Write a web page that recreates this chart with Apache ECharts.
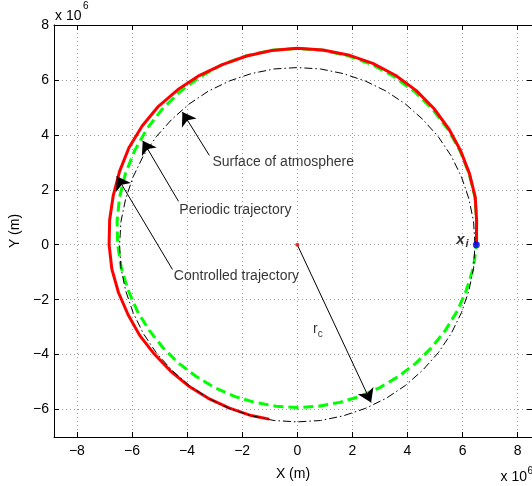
<!DOCTYPE html>
<html>
<head>
<meta charset="utf-8">
<script src="https://cdn.jsdelivr.net/npm/echarts@6/dist/echarts.min.js"></script>
<style>
html, body { margin: 0; padding: 0; background: #fff; }
#main { width: 532px; height: 486px; }
</style>
</head>
<body>
<div id="main"></div>
<script>
// units: 1e6 m
const xTicks = [-8, -6, -4, -2, 0, 2, 4, 6, 8];
const yTicks = [-6, -4, -2, 0, 2, 4, 6, 8];

// surface of atmosphere (dash-dot circle)
const atmosphere = [
  [6.45, 0], [6.40, 0.84], [6.23, 1.67], [5.96, 2.47], [5.59, 3.23], [5.12, 3.93],
  [4.56, 4.56], [3.93, 5.12], [3.23, 5.59], [2.47, 5.96], [1.67, 6.23], [0.84, 6.40],
  [0, 6.45], [-0.84, 6.40], [-1.67, 6.23], [-2.47, 5.96], [-3.23, 5.59], [-3.93, 5.12],
  [-4.56, 4.56], [-5.12, 3.93], [-5.59, 3.23], [-5.96, 2.47], [-6.23, 1.67], [-6.40, 0.84],
  [-6.45, 0], [-6.40, -0.84], [-6.23, -1.67], [-5.96, -2.47], [-5.59, -3.23], [-5.12, -3.93],
  [-4.56, -4.56], [-3.93, -5.12], [-3.23, -5.59], [-2.47, -5.96], [-1.67, -6.23], [-0.84, -6.40],
  [0, -6.45], [0.84, -6.40], [1.67, -6.23], [2.47, -5.96], [3.23, -5.59], [3.93, -5.12],
  [4.56, -4.56], [5.12, -3.93], [5.59, -3.23], [5.96, -2.47], [6.23, -1.67], [6.40, -0.84],
  [6.45, 0]
];
// periodic trajectory (green dashed)
const periodic = [
  [6.51, 0], [6.51, 0.86], [6.45, 1.73], [6.24, 2.58], [5.91, 3.41], [5.47, 4.20],
  [4.92, 4.92], [4.27, 5.56], [3.53, 6.11], [2.72, 6.56], [1.84, 6.88], [0.93, 7.08],
  [0, 7.15], [-0.93, 7.08], [-1.84, 6.88], [-2.72, 6.56], [-3.53, 6.11], [-4.27, 5.56],
  [-4.92, 4.92], [-5.47, 4.20], [-5.91, 3.41], [-6.24, 2.58], [-6.45, 1.73], [-6.54, 0.86],
  [-6.52, 0], [-6.39, -0.84], [-6.14, -1.65], [-5.81, -2.41], [-5.38, -3.11], [-4.88, -3.74],
  [-4.31, -4.31], [-3.68, -4.79], [-3.00, -5.20], [-2.28, -5.52], [-1.54, -5.74], [-0.77, -5.88],
  [0, -5.93], [0.77, -5.88], [1.54, -5.74], [2.28, -5.52], [3.00, -5.20], [3.68, -4.79],
  [4.31, -4.31], [4.88, -3.74], [5.38, -3.11], [5.81, -2.41], [6.14, -1.65], [6.39, -0.84],
  [6.51, 0]
];
// controlled trajectory (red)
const controlled = [
  [6.50, 0], [6.51, 0.86], [6.46, 1.73], [6.25, 2.59], [5.93, 3.42], [5.50, 4.22],
  [4.96, 4.96], [4.31, 5.62], [3.56, 6.17], [2.74, 6.60], [1.85, 6.91], [0.93, 7.09],
  [0, 7.15], [-0.93, 7.07], [-1.84, 6.87], [-2.72, 6.56], [-3.56, 6.16], [-4.33, 5.65],
  [-5.04, 5.04], [-5.63, 4.32], [-6.11, 3.53], [-6.45, 2.67], [-6.68, 1.79], [-6.81, 0.90],
  [-6.83, 0], [-6.73, -0.89], [-6.49, -1.74], [-6.14, -2.55], [-5.72, -3.30], [-5.19, -3.98],
  [-4.60, -4.60], [-3.95, -5.14], [-3.23, -5.59], [-2.46, -5.95], [-1.67, -6.22], [-1.02, -6.35]
];
const startPoint = [6.5, 0];
const centerPoint = [0, 0];

const noteText = ['Surface of atmosphere', 'Periodic trajectory', 'Controlled trajectory'];
const notePos = [[-3.08, 3.0], [-4.28, 1.27], [-4.48, -1.15]];
const arrowFrom = [[-3.19, 3.25], [-4.31, 1.58], [-4.53, -0.9], [0, 0]];
const arrowTo = [[-4.17, 4.83], [-5.61, 3.79], [-6.55, 2.49], [2.68, -5.74]];

const FONT = 'Liberation Sans, Arial, Helvetica, sans-serif';
const minus = v => String(v).replace('-', '\u2212');

const chart = echarts.init(document.getElementById('main'), null, { renderer: 'canvas' });

const baseX = {
  type: 'value', min: -8.83, max: 8.52,
  axisLine: { show: true, onZero: false, lineStyle: { color: '#000', width: 1 } },
  axisTick: { show: true, inside: true, length: 5, customValues: xTicks, lineStyle: { color: '#000' } },
  splitLine: { show: false }
};
const baseY = {
  type: 'value', min: -7, max: 8,
  axisLine: { show: true, onZero: false, lineStyle: { color: '#000', width: 1 } },
  axisTick: { show: true, inside: true, length: 5, customValues: yTicks, lineStyle: { color: '#000' } },
  splitLine: { show: false }
};

chart.setOption({
  animation: false,
  backgroundColor: '#fff',
  textStyle: { fontFamily: FONT },
  grid: { left: 54, top: 25, width: 480, height: 417 },
  xAxis: [
    Object.assign({}, baseX, {
      position: 'bottom',
      name: 'X (m)', nameLocation: 'middle', nameGap: 30,
      nameTextStyle: { color: '#000', fontSize: 14, fontFamily: FONT },
      axisLabel: { customValues: xTicks, color: '#000', fontSize: 14, fontFamily: FONT, margin: 7, formatter: minus },
      splitLine: { show: true, lineStyle: { color: '#999', type: [1, 3], width: 1 } }
    }),
    Object.assign({}, baseX, { position: 'top', axisLabel: { show: false } })
  ],
  yAxis: [
    Object.assign({}, baseY, {
      position: 'left',
      name: 'Y (m)', nameLocation: 'middle', nameGap: 26,
      nameTextStyle: { color: '#000', fontSize: 14, fontFamily: FONT },
      axisLabel: { customValues: yTicks, color: '#000', fontSize: 14, fontFamily: FONT, margin: 5, formatter: minus },
      splitLine: { show: true, lineStyle: { color: '#999', type: [1, 3], width: 1 } }
    }),
    Object.assign({}, baseY, { position: 'right', axisLabel: { show: false } })
  ],
  series: [
    {
      name: 'Periodic trajectory', type: 'line', data: periodic,
      showSymbol: false, silent: true, z: 2,
      lineStyle: { color: '#00ff00', width: 3, type: [10, 5], join: 'round' }
    },
    {
      name: 'Controlled trajectory', type: 'line', data: controlled,
      showSymbol: false, silent: true, z: 3,
      lineStyle: { color: '#ff0000', width: 3, join: 'round' }
    },
    {
      name: 'Surface of atmosphere', type: 'line', data: atmosphere,
      showSymbol: false, silent: true, z: 4,
      lineStyle: { color: '#000', width: 1, type: [8, 3, 1.5, 3], join: 'round' }
    },
    {
      type: 'lines', coordinateSystem: 'cartesian2d', z: 5, silent: true,
      symbol: ['none', 'arrow'], symbolSize: [10, 13],
      lineStyle: { color: '#000', width: 1, opacity: 1 },
      data: arrowFrom.map((p, i) => ({ coords: [p, arrowTo[i]] }))
    },
    {
      type: 'scatter', z: 6, silent: true, symbolSize: 0,
      label: { show: true, position: 'right', distance: 0, color: '#000', fontSize: 14, fontFamily: FONT },
      data: notePos.map((p, i) => ({ value: p, label: { formatter: noteText[i] } }))
    },
    {
      type: 'scatter', z: 7, silent: true, symbol: 'circle', symbolSize: 4,
      itemStyle: { color: '#ff0000' },
      data: [centerPoint]
    },
    {
      type: 'scatter', z: 7, silent: true, symbol: 'circle', symbolSize: 7,
      itemStyle: { color: '#0000ff' },
      data: [startPoint]
    },
    {
      type: 'scatter', z: 6, silent: true, symbolSize: 0,
      label: {
        show: true, position: 'right', distance: 0,
        rich: {
          x: { fontSize: 15, fontWeight: 'bold', fontStyle: 'italic', color: '#000', fontFamily: FONT },
          i: { fontSize: 11, fontWeight: 'bold', fontStyle: 'italic', color: '#000', fontFamily: FONT, padding: [9, 0, 0, 1] },
          r: { fontSize: 14, color: '#000', fontFamily: FONT },
          c: { fontSize: 10, color: '#000', fontFamily: FONT, padding: [9, 0, 0, 0] }
        }
      },
      data: [
        { value: [5.77, 0.19], label: { formatter: '{x|x}{i|i}' } },
        { value: [0.57, -3.08], label: { formatter: '{r|r}{c|c}' } }
      ]
    }
  ],
  graphic: [
    { type: 'text', x: 55, y: 16, silent: true,
      style: { text: 'x 10', font: '14px ' + FONT, fill: '#000', verticalAlign: 'middle' } },
    { type: 'text', x: 83, y: 6.5, silent: true,
      style: { text: '6', font: '10px ' + FONT, fill: '#000', verticalAlign: 'middle' } },
    { type: 'text', x: 500.5, y: 477, silent: true,
      style: { text: 'x 10', font: '14px ' + FONT, fill: '#000', verticalAlign: 'middle' } },
    { type: 'text', x: 527.5, y: 471, silent: true,
      style: { text: '6', font: '10px ' + FONT, fill: '#000', verticalAlign: 'middle' } }
  ]
});
</script>
</body>
</html>
